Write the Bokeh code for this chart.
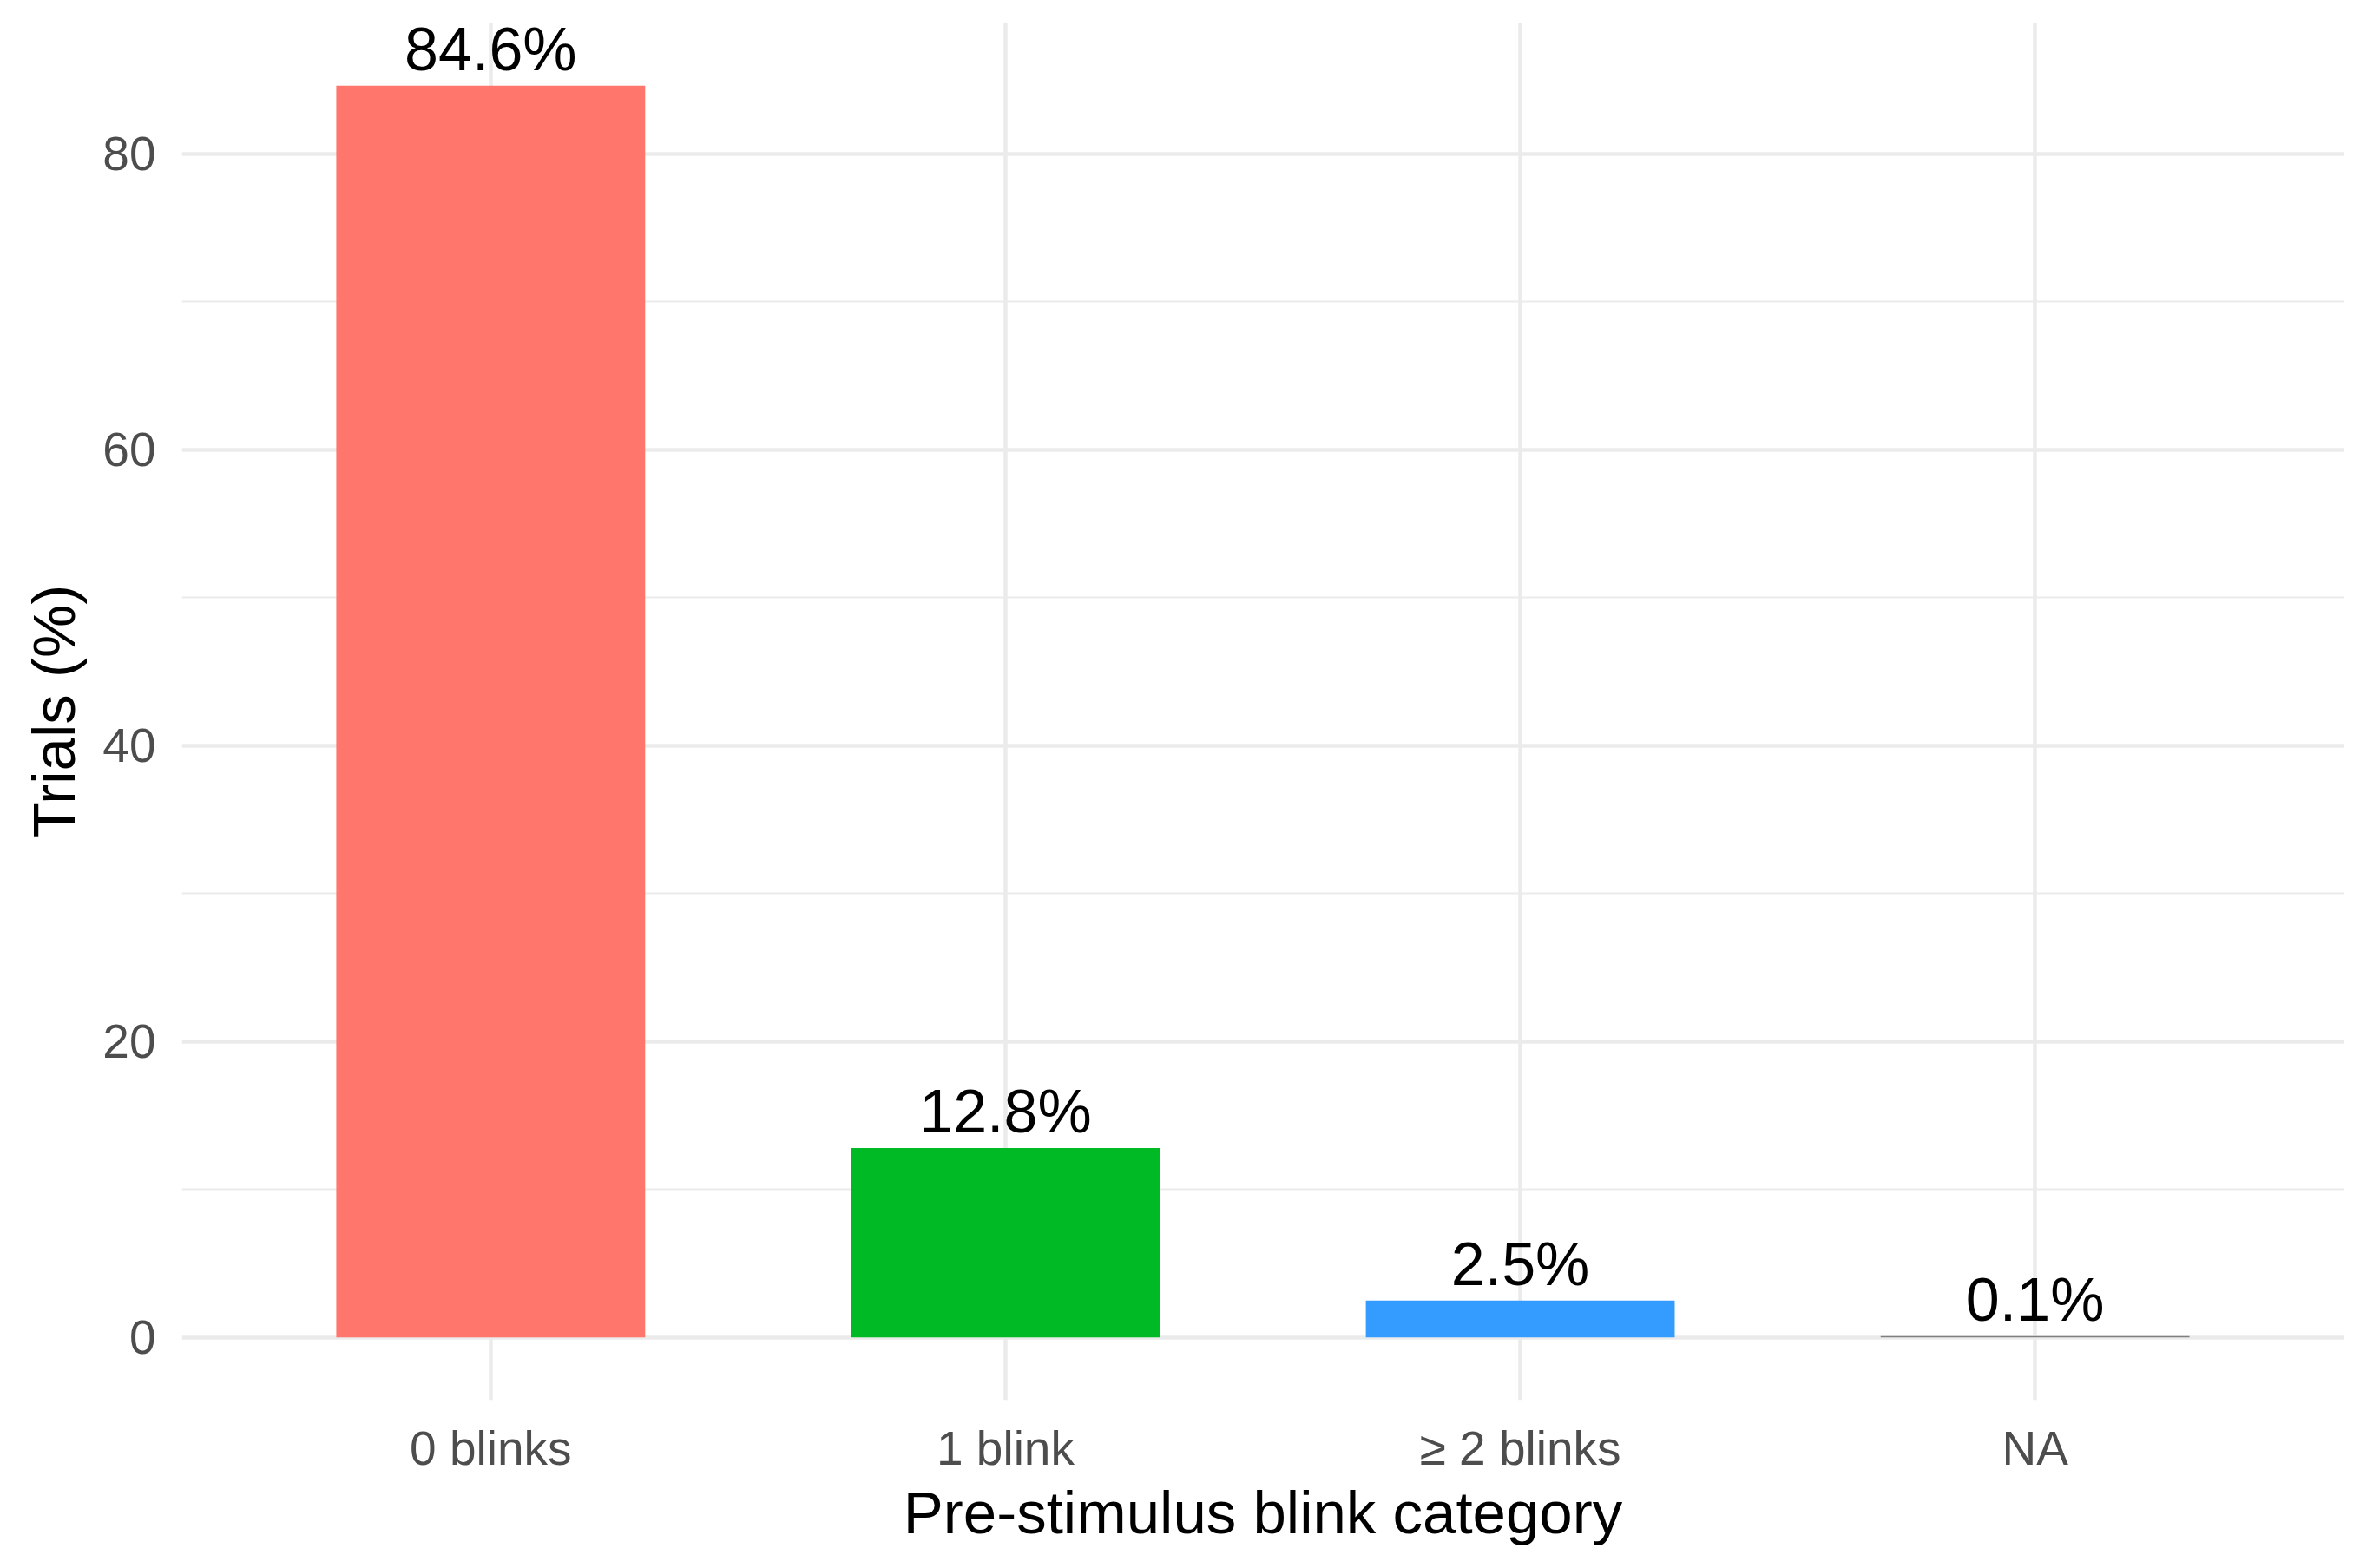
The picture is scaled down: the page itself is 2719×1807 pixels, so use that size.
from bokeh.plotting import figure
from bokeh.models import Range1d, FixedTicker, ColumnDataSource, LabelSet
from bokeh.core.properties import value
from bokeh.embed import file_html
from bokeh.resources import INLINE

categories = ["0 blinks", "1 blink", "\u2265 2 blinks", "NA"]
percent = [84.6, 12.8, 2.5, 0.1]
labels = ["84.6%", "12.8%", "2.5%", "0.1%"]
colors = ["#FF766D", "#00BA25", "#349CFF", "#7F7F7F"]
y_ticks = [0, 20, 40, 60, 80]
y_minor = [10, 30, 50, 70]

FONT = "Liberation Sans"
xpos = list(range(1, len(categories) + 1))
src = ColumnDataSource(dict(x=xpos, top=percent, lab=labels, color=colors))

ymax = max(percent)
p = figure(width=2711, height=1799, output_backend="svg", toolbar_location=None,
           x_range=Range1d(0.4, len(categories) + 0.6),
           y_range=Range1d(-0.05 * ymax, 1.05 * ymax),
           min_border_left=209, min_border_right=11, min_border_top=26, min_border_bottom=186)
p.frame_width = 2491
p.frame_height = 1587
p.outline_line_color = None
p.background_fill_color = "white"
p.border_fill_color = "white"

p.vbar(x="x", top="top", bottom=0, width=0.6, fill_color="color", line_color=None, source=src)

p.add_layout(LabelSet(x="x", y="top", text="lab", source=src, text_align="center",
                      text_baseline="alphabetic", y_offset=18, text_font=value(FONT),
                      text_font_size=value("70px"), text_color="black"))

p.xaxis.ticker = FixedTicker(ticks=xpos)
p.xaxis.major_label_overrides = {i: c for i, c in zip(xpos, categories)}
p.yaxis.ticker = FixedTicker(ticks=y_ticks, minor_ticks=y_minor)

for ax in (p.xaxis, p.yaxis):
    ax.axis_line_color = None
    ax.major_tick_line_color = None
    ax.minor_tick_line_color = None
    ax.major_tick_out = 0
    ax.major_tick_in = 0
    ax.minor_tick_out = 0
    ax.minor_tick_in = 0
    ax.major_label_text_font = FONT
    ax.major_label_text_font_size = "55px"
    ax.major_label_text_color = "#4D4D4D"
    ax.axis_label_text_font = FONT
    ax.axis_label_text_font_size = "69px"
    ax.axis_label_text_font_style = "normal"
    ax.axis_label_text_color = "black"

p.xaxis.axis_label = "Pre-stimulus blink category"
p.yaxis.axis_label = "Trials (%)"
p.yaxis.major_label_standoff = 30
p.yaxis.axis_label_standoff = 14
p.xaxis.major_label_standoff = 24
p.xaxis.axis_label_standoff = 2

p.xgrid.grid_line_color = "#EBEBEB"
p.xgrid.grid_line_width = 4.5
p.ygrid.grid_line_color = "#EBEBEB"
p.ygrid.grid_line_width = 4.5
p.ygrid.minor_grid_line_color = "#EBEBEB"
p.ygrid.minor_grid_line_width = 2.2
p.grid.level = "underlay"

open("out.html", "w").write(file_html(p, INLINE))
